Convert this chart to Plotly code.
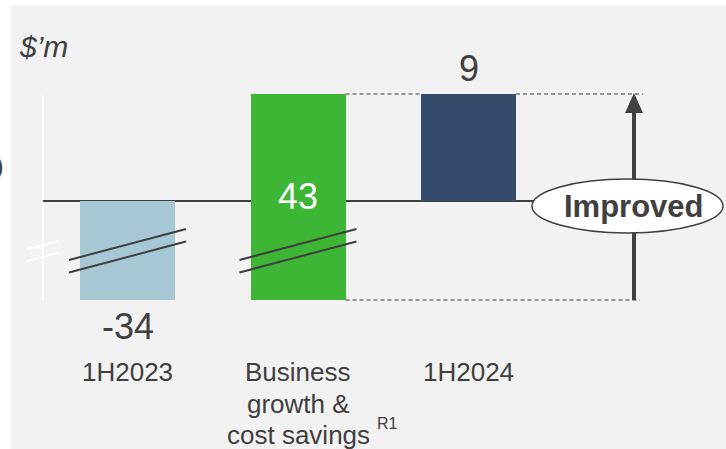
import plotly.graph_objects as go

# ---------------- data ----------------
categories = ["1H2023", "Business<br>growth &<br>cost savings", "1H2024"]
values = [-34, 43, 9]                      # start, change, end
value_labels = ["-34", "43", "9"]
bar_colors = ["#a5c8d4", "#3db535", "#354b6b"]
unit_label = "$’m"
note_label = "R1"
callout_label = "Improved"

# ---------------- layout constants ----------------
W, H = 726, 449
X0PX, XSTEP = 127.5, 170.5        # pixel centre of first category, category spacing
Y0PX, PXU = 201.0, 107.0 / 9.0    # pixel of zero line, pixels per unit (positive side)
NEG_SCALE = 0.245                 # broken axis: negative side compressed
BAR_W = 95 / XSTEP
DARK = "#404040"
FONT = "Liberation Sans, Arial, sans-serif"


def disp(v):
    return v if v >= 0 else v * NEG_SCALE


def px2x(px):
    return (px - X0PX) / XSTEP


def px2y(py):
    return (Y0PX - py) / PXU


# waterfall geometry from data
start, change = values[0], values[1]
end = start + change
bases = [0, disp(start), 0]
heights = [disp(start), disp(end) - disp(start), disp(end)]
xs = list(range(len(categories)))

fig = go.Figure()
fig.add_trace(go.Bar(x=xs, y=heights, base=bases, width=BAR_W,
                     marker=dict(color=bar_colors, line=dict(width=0)),
                     hoverinfo="skip"))

shapes = []
# grey panel
shapes.append(dict(type="rect", xref="paper", yref="paper", x0=11 / W, x1=1,
                   y0=0, y1=1 - 5 / H, fillcolor="#f2f2f2", line=dict(width=0),
                   layer="below"))
# white y axis line
shapes.append(dict(type="line", x0=px2x(43), x1=px2x(43), y0=disp(start), y1=disp(end),
                   line=dict(color="white", width=2), layer="below"))
# zero line
shapes.append(dict(type="line", x0=px2x(43), x1=px2x(560), y0=0, y1=0,
                   line=dict(color=DARK, width=2), layer="below"))
# dashed connectors
dash = dict(color="#7a7a7a", width=1.5, dash="4px,3px")
shapes.append(dict(type="line", x0=1 + BAR_W / 2, x1=2 - BAR_W / 2, y0=disp(end), y1=disp(end), line=dash))
shapes.append(dict(type="line", x0=2 + BAR_W / 2, x1=px2x(643), y0=disp(end), y1=disp(end), line=dash))
shapes.append(dict(type="line", x0=1 + BAR_W / 2, x1=px2x(640), y0=disp(start), y1=disp(start), line=dash))
# arrow
ax_px = 634
head_h, head_w = 19, 18
shapes.append(dict(type="line", x0=px2x(ax_px), x1=px2x(ax_px), y0=disp(start),
                   y1=disp(end) - head_h / PXU, line=dict(color=DARK, width=4)))
tip_y = disp(end)
path = "M {} {} L {} {} L {} {} Z".format(
    px2x(ax_px - head_w / 2), tip_y - head_h / PXU,
    px2x(ax_px + head_w / 2), tip_y - head_h / PXU,
    px2x(ax_px), tip_y + 1 / PXU)
shapes.append(dict(type="path", path=path, fillcolor=DARK, line=dict(width=0)))
# callout ellipse
shapes.append(dict(type="circle", x0=px2x(532), x1=px2x(723), y0=px2y(233), y1=px2y(179),
                   fillcolor="white", line=dict(color=DARK, width=1.5)))
# break marks on the axis (white)
for dy in (0, 11.5):
    shapes.append(dict(type="line", x0=px2x(27), x1=px2x(58), y0=px2y(249.5 + dy), y1=px2y(241 + dy),
                       line=dict(color="white", width=2)))
# break marks across the bars containing the negative segment
for i in (0, 1):
    for dy in (0, 12.5):
        shapes.append(dict(type="line", x0=i - 58.5 / XSTEP, x1=i + 58.5 / XSTEP,
                           y0=px2y(260 + dy), y1=px2y(229 + dy),
                           line=dict(color=DARK, width=2)))

ann = []
# value labels
ann.append(dict(x=0, y=disp(start), text=value_labels[0], yanchor="top", yshift=-4,
                font=dict(size=36, color=DARK, family=FONT)))
ann.append(dict(x=1, y=0, text=value_labels[1], yanchor="middle", yshift=4.5,
                font=dict(size=36, color="white", family=FONT)))
ann.append(dict(x=2, y=disp(end), text=value_labels[2], yanchor="bottom", yshift=3.5,
                font=dict(size=36, color=DARK, family=FONT)))
# category labels (one annotation per line for exact spacing)
for i, cat in enumerate(categories):
    for j, line in enumerate(cat.split("<br>")):
        ann.append(dict(x=i, y=px2y(372 + 31.5 * j), text=line, yanchor="middle",
                        font=dict(size=26, color=DARK, family=FONT)))
# superscript note
ann.append(dict(x=px2x(387.5), y=px2y(423.5), text=note_label, yanchor="middle",
                font=dict(size=16, color=DARK, family=FONT)))
# unit label
ann.append(dict(x=px2x(17), y=px2y(46.6), text=unit_label, xanchor="left", yanchor="middle",
                font=dict(size=30, color=DARK, family=FONT, style="italic")))
# callout text
ann.append(dict(x=px2x(633.5), y=px2y(206), text="<b>" + callout_label + "</b>", yanchor="middle",
                font=dict(size=31, color=DARK, family=FONT)))
# cut-off bracket at left edge (partially visible in the original too)
ann.append(dict(xref="paper", yref="paper", x=6 / W, y=1 - 165.5 / H, text=")",
                xanchor="right", yanchor="middle",
                font=dict(size=26, color=DARK, family=FONT)))
for a in ann:
    a.setdefault("showarrow", False)
    a.setdefault("xref", "x")
    a.setdefault("yref", "y")

fig.update_layout(
    width=W, height=H,
    margin=dict(l=0, r=0, t=0, b=0),
    paper_bgcolor="white", plot_bgcolor="rgba(0,0,0,0)",
    showlegend=False, hovermode=False,
    xaxis=dict(visible=False, range=[px2x(0), px2x(W)], fixedrange=True),
    yaxis=dict(visible=False, range=[px2y(H), px2y(0)], fixedrange=True),
    shapes=shapes, annotations=ann,
    bargap=0,
)

fig.write_html("out.html", config={"displayModeBar": False},
               post_script="document.body.style.margin='0';document.body.style.overflow='hidden';")
